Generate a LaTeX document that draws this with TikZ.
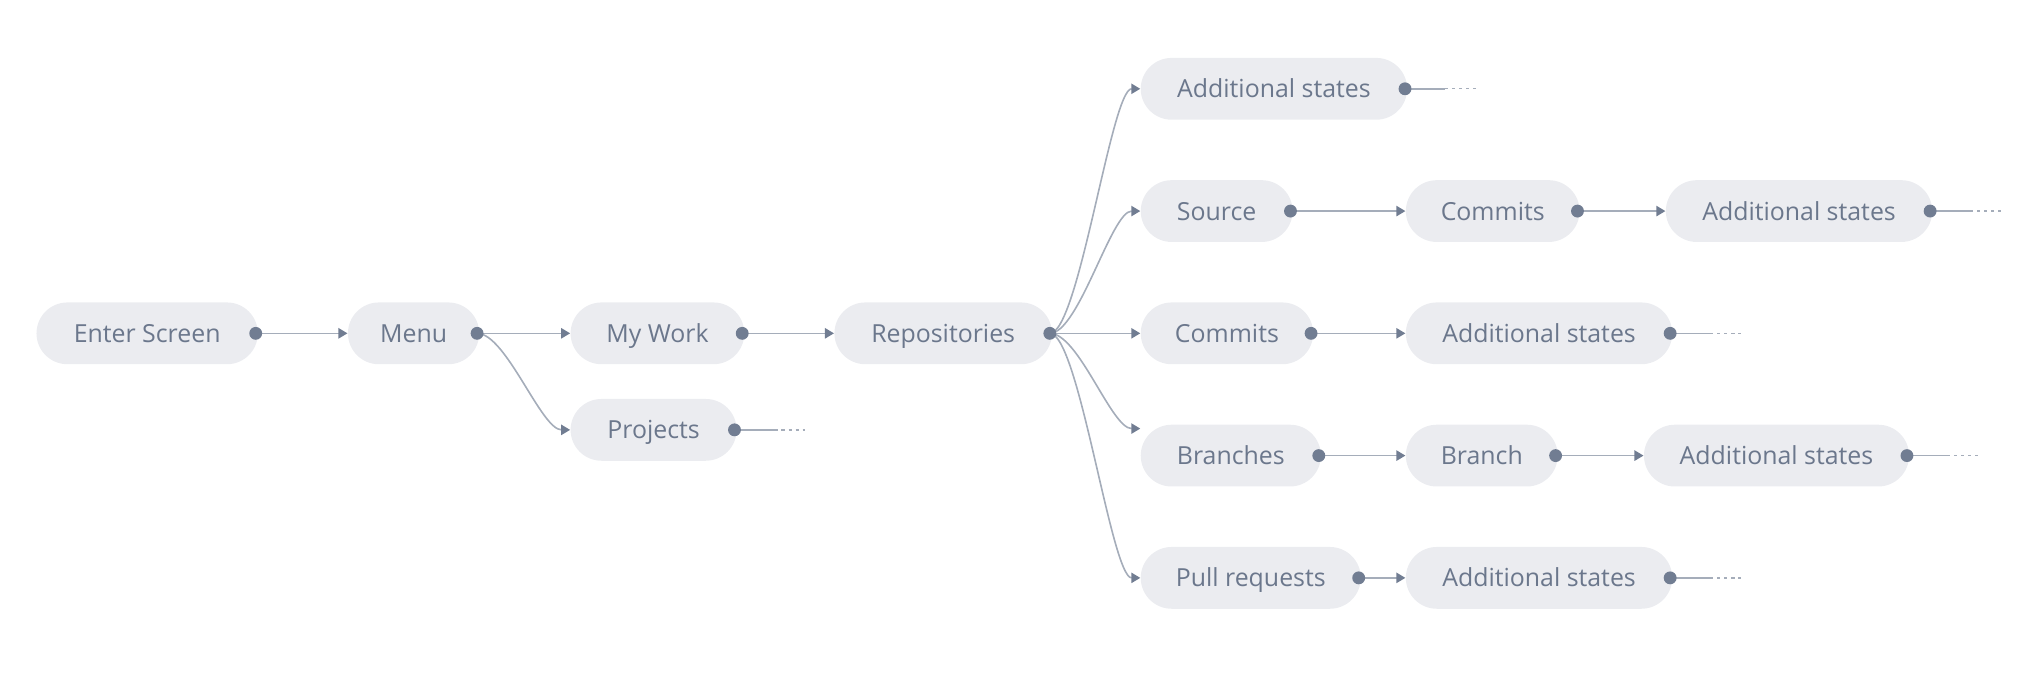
\documentclass[tikz,border=0pt]{standalone}
\usepackage{fontspec}
\setmainfont{Open Sans}
\usetikzlibrary{arrows.meta}
\definecolor{boxgrey}{HTML}{EBECF0}
\definecolor{inkgrey}{HTML}{6B778C}
\definecolor{wiregrey}{HTML}{A5ADBA}
\definecolor{dotgrey}{HTML}{717D92}
\tikzset{
	state/.style={fill=boxgrey, text=inkgrey, rounded corners=4.8mm, minimum height=9.6mm, inner sep=0pt, anchor=west, text height=2.8mm, text depth=0pt, font=\fontsize{11}{12}\selectfont},
	wire/.style={draw=wiregrey, line width=0.25mm, -{Triangle[length=1.4mm,width=1.6mm,color=dotgrey]}},
	stub/.style={draw=wiregrey, line width=0.25mm},
	stubdots/.style={draw=wiregrey, line width=0.2mm, dash pattern=on 0.5mm off 0.6mm},
}
\def\link(#1)(#2){\draw[wire] ([xshift=-0.4mm]#1.east) -- (#2.west);}
\def\swing(#1)(#2){\draw[wire] ([xshift=-0.4mm]#1.east) .. controls +(4.5mm,0) and +(-4.5mm,0) .. (#2);}
\def\knob(#1){\fill[dotgrey] ([xshift=-0.4mm]#1.east) circle (1mm);}
\def\tail(#1){\draw[stub] ([xshift=-0.4mm]#1.east) -- ++(6.2mm,0); \draw[stubdots] ([xshift=5.8mm]#1.east) -- ++(4.8mm,0);}

\begin{document}
\begin{tikzpicture}[x=0.2mm, y=-0.2mm]
	%%%%% START %%%%%
	\useasboundingbox (0, 0) rectangle (1568, 536);
	
	\node[state, minimum width=34.4mm] (enter) at (28, 259) {Enter Screen};
	\node[state, minimum width=20.4mm] (menu) at (270, 259) {Menu};
	\node[state, minimum width=27mm] (mywork) at (443, 259) {My Work};
	\node[state, minimum width=25.8mm] (projects) at (443, 334) {Projects};
	\node[state, minimum width=33.8mm] (repos) at (648, 259) {Repositories};
	
	\node[state, minimum width=41.4mm] (topstates) at (886, 69) {Additional states};
	
	\node[state, minimum width=23.6mm] (source) at (886, 164) {Source};
	\node[state, minimum width=27mm] (srccommits) at (1092, 164) {Commits};
	\node[state, minimum width=41.4mm] (srcstates) at (1294, 164) {Additional states};
	
	\node[state, minimum width=26.8mm] (commits) at (886, 259) {Commits};
	\node[state, minimum width=41.4mm] (commitstates) at (1092, 259) {Additional states};
	
	\node[state, minimum width=28mm] (branches) at (886, 354) {Branches};
	\node[state, minimum width=23.6mm] (branch) at (1092, 354) {Branch};
	\node[state, minimum width=41.2mm] (branchstates) at (1277, 354) {Additional states};
	
	\node[state, minimum width=34.2mm] (pulls) at (886, 449) {Pull requests};
	\node[state, minimum width=41.4mm] (pullstates) at (1092, 449) {Additional states};
	
	\link(enter)(menu)
	\link(menu)(mywork)
	\swing(menu)(projects.west)
	\link(mywork)(repos)
	
	\swing(repos)(topstates.west)
	\swing(repos)(source.west)
	\link(repos)(commits)
	\swing(repos)([yshift=4.2mm]branches.west)
	\swing(repos)(pulls.west)
	
	\link(source)(srccommits)
	\link(srccommits)(srcstates)
	\link(commits)(commitstates)
	\link(branches)(branch)
	\link(branch)(branchstates)
	\link(pulls)(pullstates)
	
	\tail(projects)
	\tail(topstates)
	\tail(srcstates)
	\tail(commitstates)
	\tail(branchstates)
	\tail(pullstates)
	
	\knob(enter) \knob(menu) \knob(mywork) \knob(projects) \knob(repos)
	\knob(topstates) \knob(source) \knob(srccommits) \knob(srcstates)
	\knob(commits) \knob(commitstates) \knob(branches) \knob(branch)
	\knob(branchstates) \knob(pulls) \knob(pullstates)
	%%%%% END %%%%%
\end{tikzpicture}
\end{document}
